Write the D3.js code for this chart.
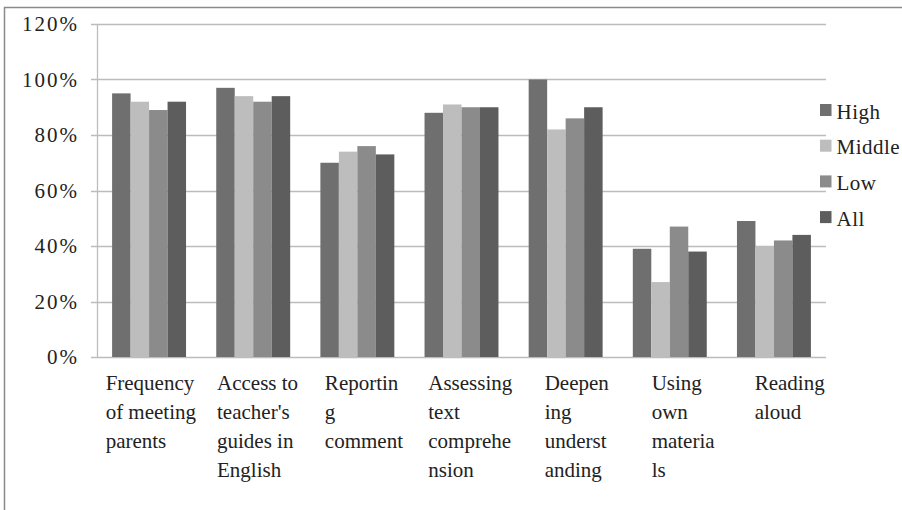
<!DOCTYPE html>
<html>
<head>
<meta charset="utf-8">
<script src="https://cdn.jsdelivr.net/npm/d3@7/dist/d3.min.js"></script>
<style>
  html, body { margin: 0; padding: 0; background: #fff; }
  svg { display: block; }
  text { font-family: "Liberation Serif", "Times New Roman", "DejaVu Serif", serif; }
</style>
</head>
<body>
<svg id="chart" width="902" height="510"></svg>
<script>
// Categories, each split into its display lines
const categories = [
  "Frequency of meeting parents",
  "Access to teacher's guides in English",
  "Reporting comment",
  "Assessing text comprehension",
  "Deepening understanding",
  "Using own materials",
  "Reading aloud"
];
const categoryLines = [
  ["Frequency", "of meeting", "parents"],
  ["Access to", "teacher's", "guides in", "English"],
  ["Reportin", "g", "comment"],
  ["Assessing", "text", "comprehe", "nsion"],
  ["Deepen", "ing", "underst", "anding"],
  ["Using", "own", "materia", "ls"],
  ["Reading", "aloud"]
];

const seriesNames = ["High", "Middle", "Low", "All"];

// Percent values per series, in category order
const high   = [95, 97, 70, 88, 100, 39, 49];
const middle = [92, 94, 74, 91, 82, 27, 40];
const low    = [89, 92, 76, 90, 86, 47, 42];
const all    = [92, 94, 73, 90, 90, 38, 44];

const yTicks = [0, 20, 40, 60, 80, 100, 120];

const seriesValues = [high, middle, low, all];
const colors = ["#6f6f6f", "#bdbdbd", "#8b8b8b", "#5d5d5d"];

const svg = d3.select("#chart");

// outer frame
svg.append("rect")
  .attr("x", 4.5).attr("y", 7.5)
  .attr("width", 1000).attr("height", 1000)
  .attr("fill", "none")
  .attr("stroke", "#8a8a8a")
  .attr("stroke-width", 1.5);

const plot = { left: 97, right: 826, top: 24, bottom: 357 };

const x = d3.scaleBand()
  .domain(categories)
  .range([plot.left, plot.right])
  .paddingInner(0.29)
  .paddingOuter(0.145);

const xs = d3.scaleBand()
  .domain(seriesNames)
  .range([0, x.bandwidth()]);

const y = d3.scaleLinear()
  .domain([0, 120])
  .range([plot.bottom, plot.top]);

// gridlines
svg.append("g")
  .selectAll("line")
  .data(yTicks)
  .join("line")
  .attr("x1", plot.left - 6)
  .attr("x2", plot.right)
  .attr("y1", d => Math.round(y(d)) + 0.5)
  .attr("y2", d => Math.round(y(d)) + 0.5)
  .attr("stroke", "#bcbcbc")
  .attr("stroke-width", 1.3);

// y axis line
svg.append("line")
  .attr("x1", plot.left + 0.5).attr("x2", plot.left + 0.5)
  .attr("y1", y(120)).attr("y2", y(0))
  .attr("stroke", "#bcbcbc")
  .attr("stroke-width", 1.3);

// y tick labels
svg.append("g")
  .selectAll("text")
  .data(yTicks)
  .join("text")
  .attr("x", 79)
  .attr("y", d => y(d) + 7)
  .attr("text-anchor", "end")
  .attr("font-size", 21)
  .attr("letter-spacing", 2)
  .attr("fill", "#222")
  .text(d => d + "%");

// bars
const groups = svg.append("g")
  .selectAll("g")
  .data(categories)
  .join("g")
  .attr("transform", d => `translate(${x(d)},0)`);

groups.selectAll("rect")
  .data((c, i) => seriesNames.map((s, k) => ({ s, k, v: seriesValues[k][i] })))
  .join("rect")
  .attr("x", d => xs(d.s))
  .attr("width", xs.bandwidth())
  .attr("y", d => y(d.v))
  .attr("height", d => y(0) - y(d.v))
  .attr("fill", d => colors[d.k]);

// category labels: left-aligned lines in a block centred under each slot
const labelX = d3.scalePoint()
  .domain(categories)
  .range([x(categories[0]) + x.bandwidth() / 2 + 2, x(categories[categories.length - 1]) + x.bandwidth() / 2 + 16]);

const labels = svg.append("g")
  .attr("font-size", 21)
  .attr("fill", "#222");

categories.forEach((c, i) => {
  const t = labels.append("text");
  categoryLines[i].forEach((line, j) => {
    t.append("tspan")
      .attr("x", 0)
      .attr("y", 390 + j * 29)
      .text(line);
  });
  const w = t.node().getBBox().width;
  t.attr("transform", `translate(${labelX(c) - w / 2},0)`);
});

// legend
const legend = svg.append("g")
  .selectAll("g")
  .data(seriesNames)
  .join("g")
  .attr("transform", (d, i) => `translate(820,${104 + i * 35.7})`);

legend.append("rect")
  .attr("width", 11.5)
  .attr("height", 12)
  .attr("fill", (d, i) => colors[i]);

legend.append("text")
  .attr("x", 16.5)
  .attr("y", 14.5)
  .attr("font-size", 21)
  .attr("letter-spacing", 0.5)
  .attr("fill", "#222")
  .text(d => d);
</script>
</body>
</html>
